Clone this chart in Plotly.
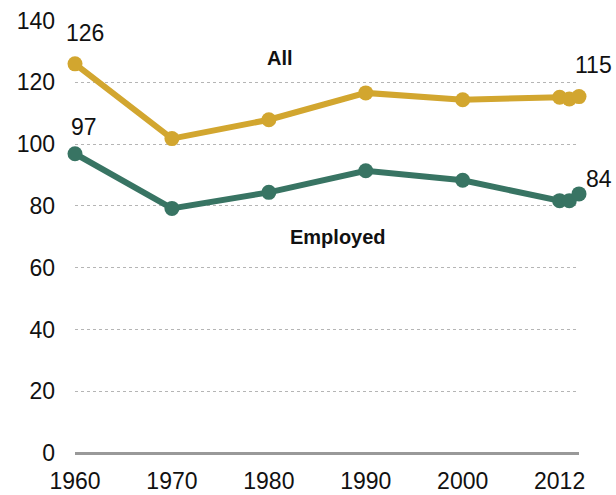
import plotly.graph_objects as go

years = [1960, 1970, 1980, 1990, 2000, 2010, 2011, 2012]
all_vals = [126, 101.8, 107.9, 116.6, 114.4, 115.2, 114.6, 115.4]
employed_vals = [96.9, 79.2, 84.4, 91.4, 88.3, 81.7, 81.7, 83.9]

tick_vals = [1960, 1970, 1980, 1990, 2000, 2010]
tick_text = ["1960", "1970", "1980", "1990", "2000", "2012"]
y_ticks = [0, 20, 40, 60, 80, 100, 120, 140]

gold = "#D2A62F"
green = "#387463"
font = "Liberation Sans, Arial, sans-serif"

fig = go.Figure()
fig.add_trace(go.Scatter(
    x=years, y=all_vals, mode="lines+markers", name="All",
    line=dict(color=gold, width=6), marker=dict(color=gold, size=15),
    cliponaxis=False
))
fig.add_trace(go.Scatter(
    x=years, y=employed_vals, mode="lines+markers", name="Employed",
    line=dict(color=green, width=6), marker=dict(color=green, size=15),
    cliponaxis=False
))

# end point value labels
labels = [
    (years[0], all_vals[0], "126", 10, 31),
    (years[0], employed_vals[0], "97", 9, 27),
    (years[-1], all_vals[-1], "115", 14, 32),
    (years[-1], employed_vals[-1], "84", 20, 15),
]
for x, y, t, dx, dy in labels:
    fig.add_annotation(x=x, y=y, text=t, showarrow=False, xshift=dx, yshift=dy,
                       font=dict(size=23, color="#111", family=font))

fig.add_annotation(x=1981.1, y=128, text="<b>All</b>", showarrow=False,
                   font=dict(size=20, color="#111", family=font))
fig.add_annotation(x=1987.1, y=69.8, text="<b>Employed</b>", showarrow=False,
                   font=dict(size=20, color="#111", family=font))

fig.update_layout(
    width=616, height=495,
    margin=dict(l=75, r=37, t=20, b=42),
    plot_bgcolor="white", paper_bgcolor="white",
    showlegend=False,
    font=dict(family=font, size=23, color="#111"),
)
fig.update_xaxes(
    range=[1960, 2012], tickvals=tick_vals, ticktext=tick_text,
    showgrid=False, zeroline=False, showline=False, ticks="",
    ticklabelstandoff=12, tickfont=dict(size=23), automargin=False,
    ticklabeloverflow="allow"
)
fig.update_yaxes(
    range=[0, 140.2], tickvals=y_ticks,
    showgrid=True, gridcolor="#b5b5b5", griddash="dot", gridwidth=1,
    zeroline=True, zerolinecolor="#999999", zerolinewidth=3,
    showline=False, ticks="", ticklabelstandoff=19,
    tickfont=dict(size=23), automargin=False, ticklabeloverflow="allow"
)

# drop the default 8px body margin so the figure sits at the page origin
fig.write_html("out.html", config={"displayModeBar": False},
               post_script="document.body.style.margin='0';")
